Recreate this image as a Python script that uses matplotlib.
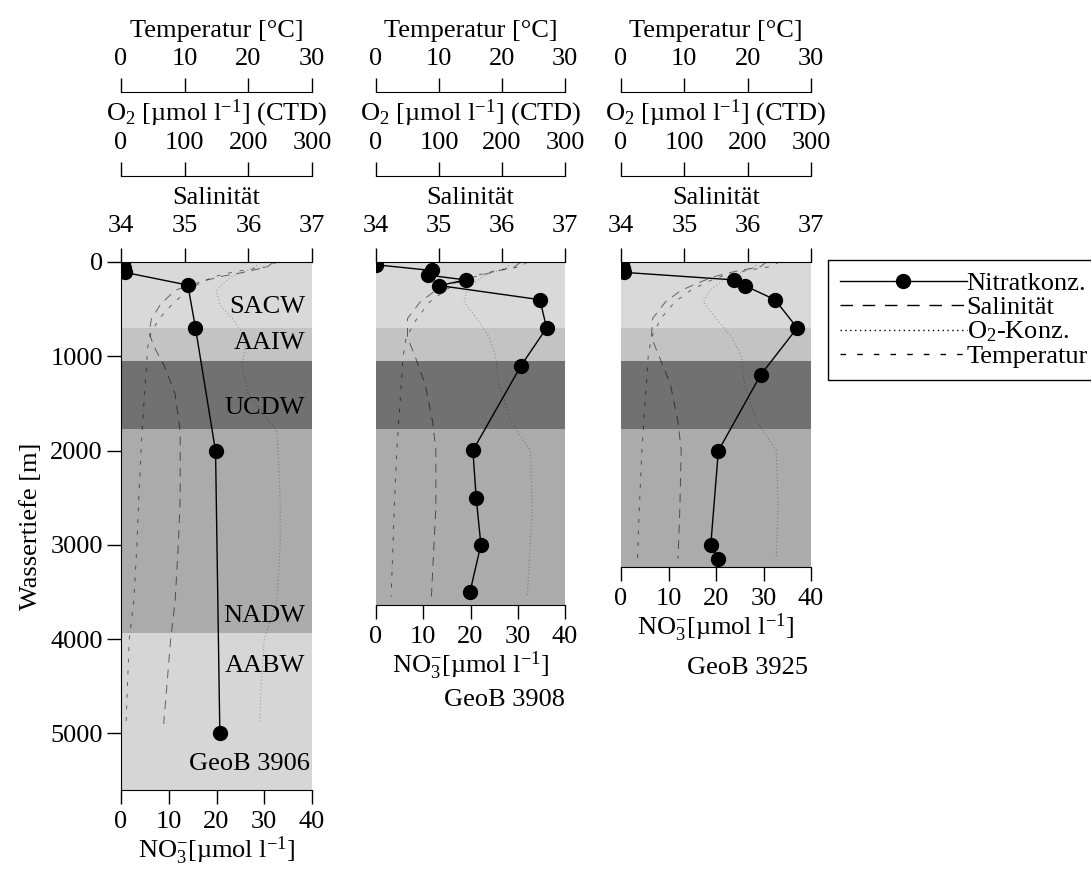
import numpy as np
import matplotlib.pyplot as plt
from matplotlib.lines import Line2D

plt.rcParams['font.family'] = ['Liberation Serif', 'DejaVu Serif']
plt.rcParams['font.size'] = 19
plt.rcParams['mathtext.fontset'] = 'custom'
plt.rcParams['mathtext.rm'] = 'Liberation Serif'
plt.rcParams['mathtext.it'] = 'Liberation Serif:italic'
plt.rcParams['mathtext.bf'] = 'Liberation Serif:bold'

# water masses (depth limits in m)
mass_names = ['SACW', 'AAIW', 'UCDW', 'NADW', 'AABW']
mass_top = [0, 700, 1050, 1770, 3930]
mass_bottom = [700, 1050, 1770, 3930, 6000]
mass_label_depth = [480, 860, 1550, 3750, 4280]
mass_greys = ['#d9d9d9', '#c3c3c3', '#717171', '#ababab', '#d6d6d6']

# nitrate, bottle samples
no3_depth_3906 = [10, 60, 110, 245, 700, 2005, 5000]
no3_3906 = [0.5, 0.7, 0.8, 14.0, 15.6, 19.8, 20.7]
no3_depth_3908 = [30, 90, 140, 190, 250, 400, 700, 1100, 2000, 2500, 3000, 3500]
no3_3908 = [0.1, 11.8, 11.0, 19.0, 13.4, 34.7, 36.1, 30.7, 20.5, 21.2, 22.2, 19.9]
no3_depth_3925 = [10, 60, 110, 190, 250, 400, 700, 1200, 2005, 3005, 3155]
no3_3925 = [0.2, 0.4, 0.6, 23.8, 26.0, 32.4, 37.1, 29.4, 20.5, 18.9, 20.4]

# CTD profiles
ctd_depth_3906 = [0, 50, 100, 150, 200, 300, 450, 600, 750, 900, 1100, 1400, 1800, 2500, 3000, 3600, 4000, 4500, 4900]
sal_3906 = [36.4, 36.3, 36.0, 35.6, 35.3, 34.85, 34.62, 34.48, 34.44, 34.52, 34.68, 34.85, 34.93, 34.93, 34.9, 34.85, 34.78, 34.72, 34.67]
temp_3906 = [24.5, 23.0, 18.0, 15.0, 13.0, 10.5, 8.0, 6.0, 4.7, 4.2, 4.0, 3.7, 3.3, 2.8, 2.5, 2.0, 1.3, 1.0, 0.8]
o2_3906 = [215, 212, 195, 175, 165, 150, 155, 175, 190, 195, 190, 200, 245, 250, 250, 245, 225, 220, 218]

ctd_depth_3908 = [0, 50, 100, 150, 200, 300, 425, 600, 800, 1000, 1300, 1700, 2000, 2600, 3000, 3550]
sal_3908 = [36.3, 36.2, 35.9, 35.6, 35.35, 34.95, 34.7, 34.5, 34.5, 34.62, 34.78, 34.9, 34.95, 34.95, 34.92, 34.88]
temp_3908 = [24.0, 23.0, 18.5, 15.5, 13.5, 11.0, 8.5, 6.5, 4.8, 4.3, 4.0, 3.6, 3.3, 2.9, 2.7, 2.4]
o2_3908 = [212, 210, 190, 170, 160, 145, 140, 160, 180, 190, 195, 215, 245, 248, 245, 240]

ctd_depth_3925 = [0, 50, 100, 150, 200, 300, 425, 600, 800, 1000, 1300, 1700, 2000, 2600, 3150]
sal_3925 = [36.3, 36.2, 35.8, 35.5, 35.3, 34.95, 34.7, 34.5, 34.48, 34.6, 34.78, 34.9, 34.95, 34.93, 34.9]
temp_3925 = [25.0, 23.5, 19.0, 16.0, 14.0, 11.0, 8.5, 6.3, 4.8, 4.3, 4.0, 3.6, 3.3, 2.9, 2.6]
o2_3925 = [215, 212, 195, 175, 160, 140, 130, 150, 175, 190, 195, 215, 245, 248, 245]

no3_ticks = [0, 10, 20, 30, 40]
sal_ticks = [34, 35, 36, 37]
o2_ticks = [0, 100, 200, 300]
temp_ticks = [0, 10, 20, 30]
depth_ticks = [0, 1000, 2000, 3000, 4000, 5000]

SAL_LS = (0, (9, 7))
O2_LS = (0, (1, 2.5))
TEMP_LS = (0, (4, 8))

W, H = 1091, 869
fig = plt.figure(figsize=(W / 100, H / 100), dpi=100)


def px_rect(x0, x1, y_top, y_bot):
    return [x0 / W, 1 - y_bot / H, (x1 - x0) / W, (y_bot - y_top) / H]


def top_axis(ax, lim, ticks, label, outward, pad):
    t = ax.twiny()
    t.set_xlim(*lim)
    t.set_xticks(ticks)
    for s in ['left', 'right', 'bottom']:
        t.spines[s].set_visible(False)
    t.spines['top'].set_position(('outward', outward))
    t.tick_params(axis='x', direction='out', length=10, width=1, pad=pad)
    t.set_xlabel(label, labelpad=8)
    return t


def station(rect, max_depth, no3_depth, no3, ctd_depth, sal, temp, o2, first):
    ax = fig.add_axes(rect)
    for top, bot, grey in zip(mass_top, mass_bottom, mass_greys):
        ax.axhspan(top, bot, color=grey, lw=0, zorder=0)
    ax.set_xlim(0, 40)
    ax.set_ylim(max_depth, 0)
    ax.plot(no3, no3_depth, color='k', lw=1, marker='o', ms=10, zorder=5)
    ax.set_xticks(no3_ticks)
    ax.tick_params(axis='x', direction='out', length=10, width=1, pad=5)
    ax.set_xlabel(r'NO$_3^{-}$[µmol l$^{-1}$]', labelpad=1)
    ax.spines['right'].set_visible(False)
    ax.spines['top'].set_visible(False)
    if first:
        ax.set_yticks(depth_ticks)
        ax.tick_params(axis='y', direction='out', length=10, width=1, pad=3)
        ax.set_ylabel('Wassertiefe [m]', labelpad=6)
    else:
        ax.spines['left'].set_visible(False)
        ax.tick_params(axis='y', left=False, labelleft=False)

    ax_s = top_axis(ax, (34, 37), sal_ticks, 'Salinität', 0, 8)
    ax_o = top_axis(ax, (0, 300), o2_ticks, r'O$_2$ [µmol l$^{-1}$] (CTD)', 62, 6)
    ax_t = top_axis(ax, (0, 30), temp_ticks, 'Temperatur [°C]', 122.4, 6)
    ax_s.plot(sal, ctd_depth, color='k', lw=0.7, ls=SAL_LS, alpha=0.55)
    ax_o.plot(o2, ctd_depth, color='k', lw=0.7, ls=O2_LS, alpha=0.35)
    ax_t.plot(temp, ctd_depth, color='k', lw=0.7, ls=TEMP_LS, alpha=0.55)
    return ax


ax1 = station(px_rect(121, 312, 262, 790), 5600, no3_depth_3906, no3_3906,
              ctd_depth_3906, sal_3906, temp_3906, o2_3906, True)
for name, d in zip(mass_names, mass_label_depth):
    ax1.text(38.6, d, name, ha='right', va='center', zorder=6)
ax1.text(39.6, 5320, 'GeoB 3906', ha='right', va='center', zorder=6)

ax2 = station(px_rect(376, 565, 262, 605), 3640, no3_depth_3908, no3_3908,
              ctd_depth_3908, sal_3908, temp_3908, o2_3908, False)
ax2.text(1.0, -0.277, 'GeoB 3908', transform=ax2.transAxes, ha='right', va='center')

ax3 = station(px_rect(621, 811, 262, 567), 3240, no3_depth_3925, no3_3925,
              ctd_depth_3925, sal_3925, temp_3925, o2_3925, False)
ax3.text(0.984, -0.331, 'GeoB 3925', transform=ax3.transAxes, ha='right', va='center')

handles = [
    Line2D([], [], color='k', lw=1, marker='o', ms=10),
    Line2D([], [], color='k', lw=1, ls=SAL_LS),
    Line2D([], [], color='k', lw=1, ls=O2_LS),
    Line2D([], [], color='k', lw=1, ls=TEMP_LS),
]
labels = ['Nitratkonz.', 'Salinität', r'O$_2$-Konz.', 'Temperatur']
leg = fig.legend(handles, labels, loc='upper left', bbox_to_anchor=(828 / W, 1 - 260 / H),
                 frameon=True, fancybox=False, edgecolor='k', framealpha=1,
                 handlelength=4.8, handletextpad=0.0, borderpad=0.45,
                 labelspacing=0.02, borderaxespad=0)
leg.get_frame().set_linewidth(1)

fig.savefig('out.png', dpi=100)
